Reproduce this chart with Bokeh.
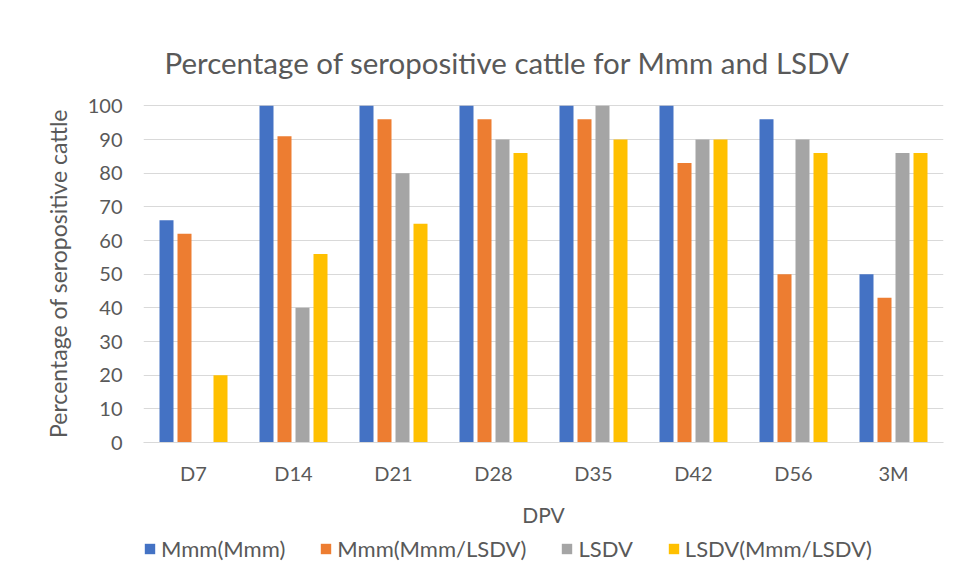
from bokeh.plotting import figure
from bokeh.layouts import column
from bokeh.models import ColumnDataSource, FactorRange, Range1d, Legend, LegendItem, FixedTicker
from bokeh.transform import dodge
from bokeh.embed import file_html
from bokeh.resources import INLINE

categories = ["D7", "D14", "D21", "D28", "D35", "D42", "D56", "3M"]
mmm_mmm = [66, 100, 100, 100, 100, 100, 96, 50]
mmm_mmm_lsdv = [62, 91, 96, 96, 96, 83, 50, 43]
lsdv = [0, 40, 80, 90, 100, 90, 90, 86]
lsdv_mmm_lsdv = [20, 56, 65, 86, 90, 90, 86, 86]
series_names = ["Mmm(Mmm)", "Mmm(Mmm/LSDV)", "LSDV", "LSDV(Mmm/LSDV)"]
series_keys = ["s0", "s1", "s2", "s3"]
colors = ["#4472C4", "#ED7D31", "#A5A5A5", "#FFC000"]
y_ticks = [0, 10, 20, 30, 40, 50, 60, 70, 80, 90, 100]

source = ColumnDataSource(data=dict(cat=categories, s0=mmm_mmm, s1=mmm_mmm_lsdv,
                                    s2=lsdv, s3=lsdv_mmm_lsdv))

FONT = "Lato"
TXT = "#595959"

p = figure(x_range=FactorRange(factors=categories, range_padding=0),
           y_range=Range1d(0, 100.4),
           width=945, height=530, output_backend="svg", toolbar_location=None,
           title="Percentage of seropositive cattle for Mmm and LSDV",
           min_border_left=143, min_border_right=2, min_border_top=104, min_border_bottom=88)

offsets = [-0.27, -0.09, 0.09, 0.27]
for key, col, off in zip(series_keys, colors, offsets):
    p.vbar(x=dodge("cat", off, range=p.x_range), top=key, width=0.14, source=source,
           fill_color=col, line_color=None)

p.title.text_font = FONT
p.title.text_font_style = "normal"
p.title.text_font_size = "29.5px"
p.title.text_color = TXT
p.title.align = "left"
p.title.offset = 21
p.title.standoff = 50

p.outline_line_color = None
p.xgrid.grid_line_color = None
p.ygrid.grid_line_color = "#D9D9D9"
p.ygrid.grid_line_width = 1
p.yaxis.ticker = FixedTicker(ticks=y_ticks)

for ax in (p.xaxis[0], p.yaxis[0]):
    ax.major_tick_line_color = None
    ax.minor_tick_line_color = None
    ax.major_tick_out = 0
    ax.major_tick_in = 0
    ax.minor_tick_out = 0
    ax.major_label_text_font = FONT
    ax.major_label_text_font_size = "20px"
    ax.major_label_text_color = TXT
    ax.axis_label_text_font = FONT
    ax.axis_label_text_font_size = "21px"
    ax.axis_label_text_font_style = "normal"
    ax.axis_label_text_color = TXT

p.yaxis.axis_label_text_font_size = "23px"
p.yaxis.axis_line_color = None
p.xaxis.axis_line_color = "#D9D9D9"
p.xaxis.axis_line_width = 1
p.xaxis.axis_label = "DPV"
p.yaxis.axis_label = "Percentage of seropositive cattle"
p.xaxis.major_label_standoff = 18
p.xaxis.axis_label_standoff = 14
p.yaxis.major_label_standoff = 21
p.yaxis.axis_label_standoff = 13

# legend strip below the chart (its bars are hidden, only the legend shows)
lg = figure(x_range=FactorRange(factors=categories), y_range=Range1d(-2, -1),
            width=945, height=38, output_backend="svg", toolbar_location=None,
            min_border=0)
lg.outline_line_color = None
lg.axis.visible = False
lg.grid.grid_line_color = None
items = []
for key, name, col in zip(series_keys, series_names, colors):
    r = lg.vbar(x="cat", top=key, width=0.14, source=source, fill_color=col, line_color=None)
    r.visible = False
    items.append(LegendItem(label=name, renderers=[r]))
legend = Legend(items=items, orientation="horizontal", location=(0, 6),
                glyph_width=13, glyph_height=13, label_standoff=5, spacing=34,
                padding=0, margin=0, border_line_color=None, background_fill_alpha=0,
                inactive_fill_alpha=0,
                label_text_font=FONT, label_text_font_size="22px", label_text_color=TXT)
lg.add_layout(legend)

layout = column(p, lg)
open("out.html", "w").write(file_html(layout, INLINE))
